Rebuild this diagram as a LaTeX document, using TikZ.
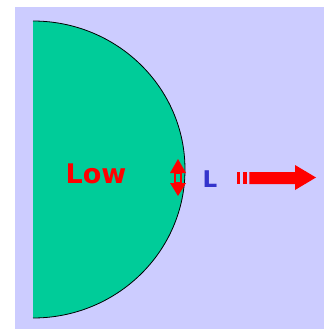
\documentclass[tikz,border=0pt]{standalone}
\usepackage{fontspec}
\newfontfamily\vfont{DejaVu Sans}
\definecolor{bgc}{HTML}{CCCCFF}
\definecolor{greenc}{HTML}{00CC99}
\definecolor{redc}{HTML}{FF0000}
\definecolor{bluec}{HTML}{3333CC}
\begin{document}
\begin{tikzpicture}[x=1pt,y=-1pt,
  lbl/.style={font=\vfont\bfseries, inner sep=0pt},
  redshape/.style={fill=redc, draw=none}]
\useasboundingbox (0,0) rectangle (329,329);
\fill[bgc] (15,7) rectangle (324,329);
% half disc
\coordinate (top) at (33,21);
\fill[greenc] (top) arc[start angle=90, end angle=-90, x radius=152pt, y radius=148.5pt] -- cycle;
\draw[black, line width=0.8pt] (top) arc[start angle=90, end angle=-90, x radius=152pt, y radius=148.5pt];
% Low
\node[lbl, text=redc, font=\vfont\bfseries\fontsize{27}{27}\selectfont] (low) at (96,174) {Low};
% double arrow
\fill[redshape] (178,159) -- (186,173) -- (170,173) -- cycle;
\fill[redshape] (178,196) -- (186,183) -- (170,183) -- cycle;
\filldraw[fill=greenc, draw=redc, line width=1.3pt] (175,173) rectangle (181,183);
% L
\node[lbl, text=bluec, font=\vfont\bfseries\fontsize{23}{23}\selectfont] (L) at (210,179) {L};
% right arrow
\fill[redshape] (237.3,172) rectangle (240,184);
\fill[redshape] (242.7,172) rectangle (247.3,184);
\fill[redshape] (249.3,172) -- (295,172) -- (295,165) -- (316,177.5) -- (295,190) -- (295,184) -- (249.3,184) -- cycle;
\end{tikzpicture}
\end{document}
